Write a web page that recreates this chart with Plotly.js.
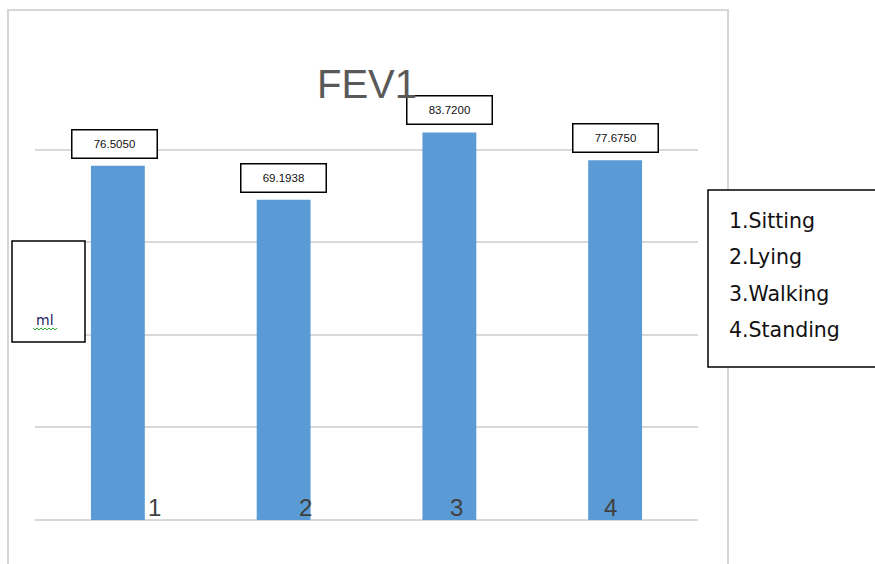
<!DOCTYPE html>
<html><head><meta charset="utf-8">
<script src="https://cdn.plot.ly/plotly-3.0.1.min.js"></script>
<style>html,body{margin:0;padding:0;background:#fff;}</style>
</head><body>
<div id="chart" style="width:875px;height:564px;"></div>
<script>
const categories = [1, 2, 3, 4];
const fev1Values = [76.505, 69.1938, 83.72, 77.675];
const valueLabels = ['76.5050', '69.1938', '83.7200', '77.6750'];
const categoryLabels = ['1', '2', '3', '4'];
const legendLines = ['1.Sitting', '2.Lying', '3.Walking', '4.Standing'];

const W = 875, H = 564, L = 35, R = 698, T = 57, B = 520;
const px = x => (x - L) / (R - L);
const py = y => (B - y) / (B - T);

const labelShift = [37, 22, 7, -5];

const annotations = [];
valueLabels.forEach((t, i) => {
  annotations.push({
    x: categories[i], y: fev1Values[i], xref: 'x', yref: 'y',
    text: t, showarrow: false, yanchor: 'bottom', yshift: 7,
    xshift: i === 0 ? -3 : 0,
    font: {family: 'Liberation Sans, Arial', size: 11.5, color: '#111'},
    bordercolor: '#000', borderwidth: 1.5, bgcolor: '#fff',
    width: 82, height: 25, borderpad: 1
  });
});
categoryLabels.forEach((t, i) => {
  annotations.push({
    x: categories[i], y: 0, xref: 'x', yref: 'y',
    text: t, showarrow: false, yanchor: 'bottom', yshift: -3, xshift: labelShift[i],
    font: {family: 'Liberation Sans Narrow, Liberation Sans', size: 24, color: '#404040'}
  });
});
annotations.push({
  x: px(367), y: py(84), xref: 'paper', yref: 'paper', text: 'FEV1', showarrow: false,
  xanchor: 'center', yanchor: 'middle',
  font: {family: 'Liberation Sans Narrow, Liberation Sans', size: 40, color: '#595959'}
});
annotations.push({
  x: px(45), y: py(320), xref: 'paper', yref: 'paper', text: 'ml', showarrow: false,
  xanchor: 'center', yanchor: 'middle',
  font: {family: 'DejaVu Sans', size: 14, color: '#1f1f5f'}
});
legendLines.forEach((t, i) => {
  annotations.push({
    x: px(727), y: py(221 + i * 36.3), xref: 'paper', yref: 'paper', text: t, showarrow: false,
    xanchor: 'left', yanchor: 'middle',
    font: {family: 'DejaVu Sans', size: 20.5, color: '#111'}
  });
});

const zig = [];
for (let k = 0; k <= 12; k++) zig.push(px(33 + 2 * k) + ' ' + py(k % 2 ? 330 : 328));
const shapes = [
  {type: 'rect', xref: 'paper', yref: 'paper', x0: px(8), x1: px(728), y0: py(10), y1: py(600),
   line: {color: '#d6d6d6', width: 2}, fillcolor: 'rgba(0,0,0,0)', layer: 'below'},
  {type: 'rect', xref: 'paper', yref: 'paper', x0: px(12), x1: px(85), y0: py(241), y1: py(342),
   line: {color: '#000', width: 1.5}, fillcolor: '#fff', layer: 'above'},
  {type: 'rect', xref: 'paper', yref: 'paper', x0: px(708), x1: px(890), y0: py(190), y1: py(367),
   line: {color: '#000', width: 1.5}, fillcolor: '#fff', layer: 'above'},
  {type: 'path', xref: 'paper', yref: 'paper', path: 'M ' + zig.join(' L '),
   line: {color: '#2eaa2e', width: 1}}
];

Plotly.newPlot('chart', [{
  type: 'bar', x: categories, y: fev1Values, width: 0.325,
  marker: {color: '#5b9bd5'}, hoverinfo: 'none'
}], {
  width: W, height: H,
  margin: {l: L, r: W - R, t: T, b: H - B, pad: 0},
  paper_bgcolor: '#fff', plot_bgcolor: '#fff',
  showlegend: false,
  xaxis: {type: 'linear', range: [0.5, 4.5], showticklabels: false, showgrid: false, zeroline: false, showline: false, ticks: ''},
  yaxis: {range: [0, 100], dtick: 20, showticklabels: false, gridcolor: '#d9d9d9', gridwidth: 2,
          zeroline: true, zerolinecolor: '#d9d9d9', zerolinewidth: 2, ticks: ''},
  annotations: annotations, shapes: shapes
}, {displayModeBar: false, staticPlot: true});
</script>
</body></html>
